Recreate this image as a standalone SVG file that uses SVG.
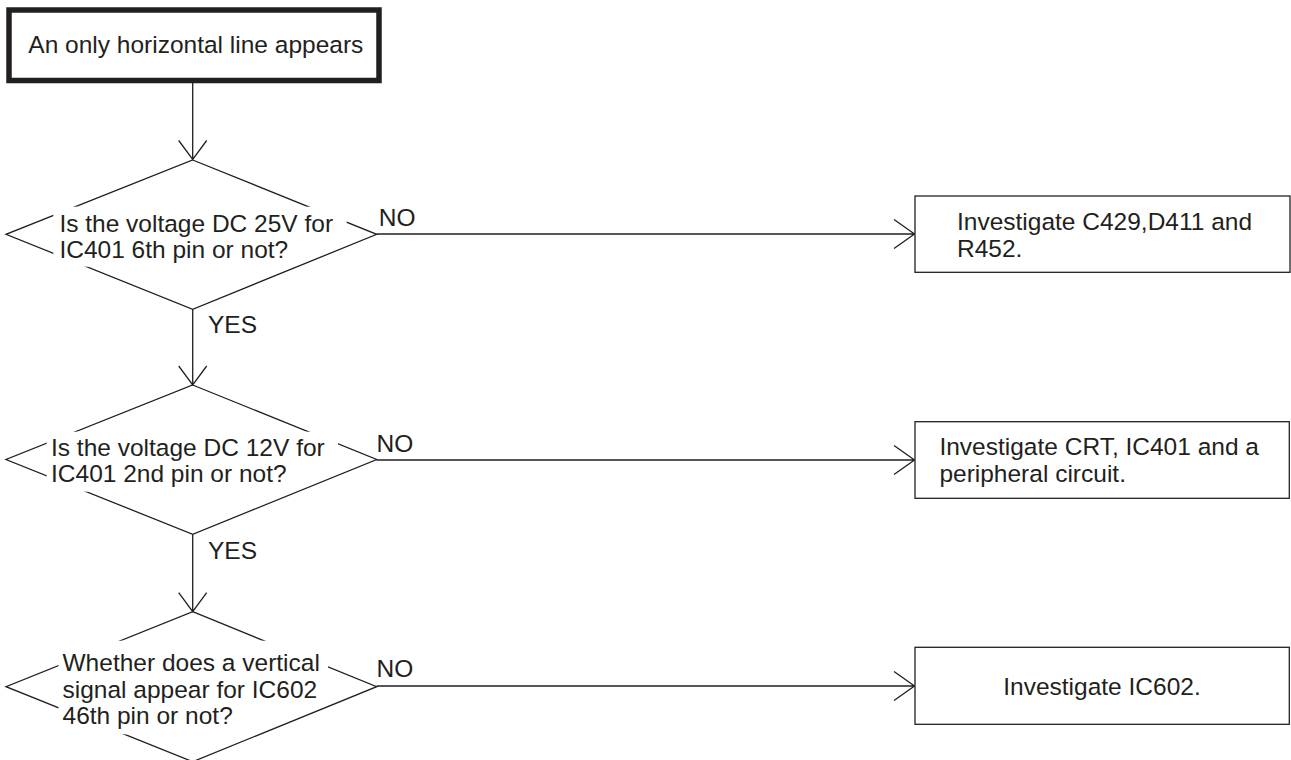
<svg xmlns="http://www.w3.org/2000/svg" width="1291" height="760" viewBox="0 0 1291 760">
<style>
.t{font-family:"Liberation Sans",Arial,sans-serif;font-size:24.5px;fill:#231f20}
.ln{fill:none;stroke:#231f20;stroke-width:1.3}
.dm{fill:none;stroke:#231f20;stroke-width:1.3}
.bx{fill:#fff;stroke:#231f20;stroke-width:1.3}
.bg{fill:#fff;stroke:none}
</style>
<rect width="1291" height="760" fill="#fff"/>
<g id="connectors">
<path class="ln" d="M192.7 83V159.5M178.7 140.5L192.7 159.5L206.7 140.5"/>
<path class="ln" d="M192.7 309.3V385M178.7 366L192.7 385L206.7 366"/>
<path class="ln" d="M192.7 534.3V611.7M178.7 592.7L192.7 611.7L206.7 592.7"/>
<path class="ln" d="M376.7 234H914.5M894 219.5L914.5 234L894 248.5"/>
<path class="ln" d="M376.7 460H914.5M894 445.5L914.5 460L894 474.5"/>
<path class="ln" d="M376.7 686H914.5M894 671.5L914.5 686L894 700.5"/>
<text class="t" x="378.8" y="226">NO</text>
<text class="t" x="376.5" y="452">NO</text>
<text class="t" x="376.5" y="677">NO</text>
<text class="t" x="208" y="333">YES</text>
<text class="t" x="208" y="558.5">YES</text>
</g>
<g id="start">
<rect x="9" y="10" width="370" height="70.5" fill="#fff" stroke="#231f20" stroke-width="5.5"/>
<text class="t" x="28.3" y="53">An only horizontal line appears</text>
</g>
<g id="decision1">
<polygon class="dm" points="192.7,160 376.7,234.3 192.7,309.3 6,234.3"/>
<rect class="bg" x="53.3" y="206.7" width="293.4" height="33.3"/>
<rect class="bg" x="53.3" y="240" width="239.7" height="26.7"/>
<text class="t" x="59.4" y="231.7">Is the voltage DC 25V for</text>
<text class="t" x="59.4" y="258.3">IC401 6th pin or not?</text>
</g>
<g id="decision2">
<polygon class="dm" points="192.7,385 376.7,459.5 192.7,534.3 6,459.5"/>
<rect class="bg" x="46.7" y="431.7" width="291.3" height="34.3"/>
<rect class="bg" x="46.7" y="466" width="243.3" height="25.7"/>
<text class="t" x="51" y="455.5">Is the voltage DC 12V for</text>
<text class="t" x="51" y="482">IC401 2nd pin or not?</text>
</g>
<g id="decision3">
<polygon class="dm" points="192.7,611.7 376.7,686.7 192.7,761.7 6,686.7"/>
<rect class="bg" x="58.5" y="640.7" width="269.5" height="43.3"/>
<rect class="bg" x="58.5" y="684" width="264.5" height="24"/>
<rect class="bg" x="58.5" y="708" width="189.5" height="26.3"/>
<text class="t" x="62.5" y="671">Whether does a vertical</text>
<text class="t" x="62.5" y="697.5">signal appear for IC602</text>
<text class="t" x="62.5" y="724">46th pin or not?</text>
</g>
<g id="action1">
<rect class="bx" x="915" y="196" width="375" height="76.3"/>
<text class="t" x="957" y="230">Investigate C429,D411 and</text>
<text class="t" x="957" y="257.3">R452.</text>
</g>
<g id="action2">
<rect class="bx" x="915" y="421.7" width="374.3" height="76.6"/>
<text class="t" x="939.4" y="455">Investigate CRT, IC401 and a</text>
<text class="t" x="939.4" y="481.7">peripheral circuit.</text>
</g>
<g id="action3">
<rect class="bx" x="915" y="647.3" width="374.3" height="77"/>
<text class="t" x="1102" y="695" text-anchor="middle">Investigate IC602.</text>
</g>
</svg>
